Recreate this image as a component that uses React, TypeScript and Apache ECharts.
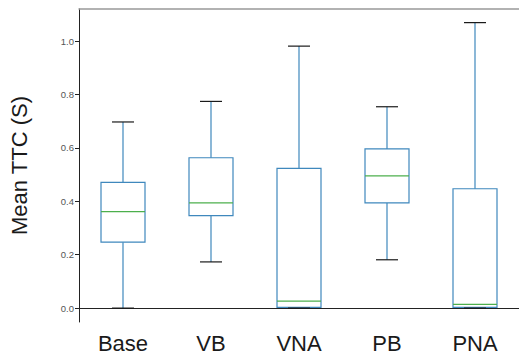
import React, { useEffect, useRef } from "react";
import * as echarts from "echarts";

const categories = ["Base", "VB", "VNA", "PB", "PNA"];
const lowerWhisker = [0.0, 0.173, 0.0, 0.181, 0.0];
const q1Values = [0.247, 0.346, 0.003, 0.394, 0.003];
const medians = [0.361, 0.394, 0.026, 0.495, 0.014];
const q3Values = [0.471, 0.563, 0.523, 0.596, 0.447];
const upperWhisker = [0.697, 0.774, 0.981, 0.754, 1.069];
const yTicks = [0, 0.2, 0.4, 0.6, 0.8, 1.0];

const BOX_COLOR = "#3f88bd";
const MEDIAN_COLOR = "#4caf4c";
const CAP_COLOR = "#1a1a1a";

export default function App() {
  const ref = useRef<HTMLDivElement>(null);
  useEffect(() => {
    if (!ref.current) return;
    const chart = echarts.init(ref.current, undefined, { renderer: "svg" });
    const data = categories.map((_, i) => [
      i,
      lowerWhisker[i],
      q1Values[i],
      medians[i],
      q3Values[i],
      upperWhisker[i],
    ]);
    const renderItem = (params: any, api: any) => {
      const idx = api.value(0);
      const band = api.size([1, 0])[0];
      const boxHalf = band * 0.25;
      const capHalf = band * 0.125;
      const pMin = api.coord([idx, api.value(1)]);
      const pQ1 = api.coord([idx, api.value(2)]);
      const pMed = api.coord([idx, api.value(3)]);
      const pQ3 = api.coord([idx, api.value(4)]);
      const pMax = api.coord([idx, api.value(5)]);
      const x = pMin[0];
      const lw = 1.2;
      return {
        type: "group",
        children: [
          {
            type: "line",
            shape: { x1: x, y1: pQ1[1], x2: x, y2: pMin[1] },
            style: { stroke: BOX_COLOR, lineWidth: lw },
          },
          {
            type: "line",
            shape: { x1: x, y1: pQ3[1], x2: x, y2: pMax[1] },
            style: { stroke: BOX_COLOR, lineWidth: lw },
          },
          {
            type: "rect",
            shape: {
              x: x - boxHalf,
              y: pQ3[1],
              width: boxHalf * 2,
              height: pQ1[1] - pQ3[1],
            },
            style: { stroke: BOX_COLOR, fill: "none", lineWidth: lw },
          },
          {
            type: "line",
            shape: { x1: x - boxHalf, y1: pMed[1], x2: x + boxHalf, y2: pMed[1] },
            style: { stroke: MEDIAN_COLOR, lineWidth: lw },
          },
          {
            type: "line",
            shape: { x1: x - capHalf, y1: pMin[1], x2: x + capHalf, y2: pMin[1] },
            style: { stroke: CAP_COLOR, lineWidth: lw },
          },
          {
            type: "line",
            shape: { x1: x - capHalf, y1: pMax[1], x2: x + capHalf, y2: pMax[1] },
            style: { stroke: CAP_COLOR, lineWidth: lw },
          },
        ],
      };
    };
    chart.setOption({
      animation: false,
      grid: { left: 76, top: 9, bottom: 34, right: -3, containLabel: false },
      xAxis: [
        {
          type: "category",
          data: categories,
          boundaryGap: true,
          axisLine: { lineStyle: { color: "#222", width: 1 } },
          axisTick: { alignWithLabel: true, length: 4, lineStyle: { color: "#222" } },
          axisLabel: {
            fontFamily: "Liberation Sans",
            fontSize: 22,
            color: "#1a1a1a",
            margin: 10,
          },
          splitLine: { show: false },
        },
        {
          type: "category",
          data: categories,
          position: "top",
          axisLine: { lineStyle: { color: "#999", width: 1.5 } },
          axisTick: { show: false },
          axisLabel: { show: false },
        },
      ],
      yAxis: {
        type: "value",
        min: -0.052,
        max: 1.12,
        name: "Mean TTC (S)",
        nameLocation: "middle",
        nameGap: 49,
        nameTextStyle: { fontFamily: "Liberation Sans", fontSize: 22, color: "#1a1a1a" },
        axisLine: { show: true, lineStyle: { color: "#222", width: 1 } },
        axisTick: {
          show: true,
          length: 4,
          lineStyle: { color: "#222" },
          customValues: yTicks,
        },
        axisLabel: {
          fontFamily: "Liberation Sans",
          fontSize: 9.5,
          color: "#555",
          margin: 5,
          customValues: yTicks,
          formatter: (v: number) => v.toFixed(1),
        },
        splitLine: { show: false },
      },
      series: [
        {
          type: "custom",
          renderItem,
          data,
          encode: { x: 0, y: [1, 2, 3, 4, 5] },
          clip: false,
        },
      ],
    });
    return () => chart.dispose();
  }, []);
  return (
    <div
      ref={ref}
      style={{ position: "fixed", left: 0, top: 0, width: 519, height: 356, background: "#fff" }}
    />
  );
}
